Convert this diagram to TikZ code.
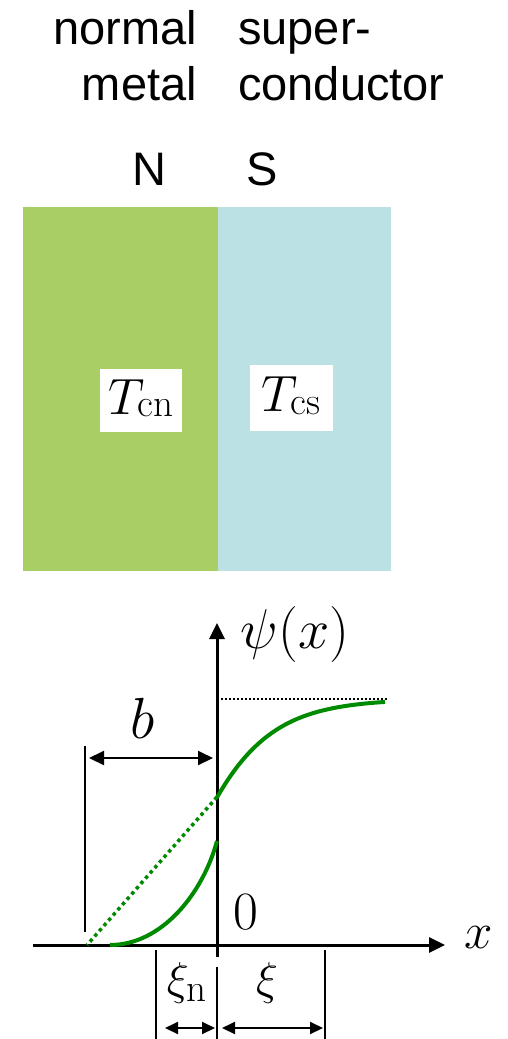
\RequirePackage{fix-cm}
\documentclass[tikz,border=0pt]{standalone}
\usepackage[no-math]{fontspec}
\newfontfamily\arialfont{Liberation Sans}
\usetikzlibrary{arrows.meta}
\definecolor{ngreen}{HTML}{A9CE66}
\definecolor{sblue}{HTML}{BBE1E4}
\definecolor{curvegreen}{HTML}{008A00}
\newcommand{\subtxt}[1]{\mbox{\fontsize{39}{40}\selectfont #1}}
\tikzset{
  toptext/.style={inner sep=0pt, font=\arialfont\fontsize{47}{56}\selectfont},
  region/.style={inner sep=0pt, anchor=north west, minimum height=364pt},
  tlabel/.style={fill=white, inner sep=0pt, font=\fontsize{51}{60}\selectfont},
  mathlab/.style={inner sep=0pt},
  axis/.style={line width=3pt, -{Triangle[width=15pt,length=16pt]}},
  dimline/.style={line width=2pt},
  dimarrow/.style={line width=2pt, {Triangle[width=14pt,length=15pt]}-{Triangle[width=14pt,length=15pt]}},
  smallarrow/.style={line width=2pt, {Triangle[width=12pt,length=13pt]}-{Triangle[width=12pt,length=13pt]}},
  psicurve/.style={curvegreen, line width=4pt},
  extrap/.style={curvegreen, line width=3.5pt, dash pattern=on 3.5pt off 3.5pt},
  limitline/.style={line width=1.5pt, dash pattern=on 2pt off 2pt}
}
\begin{document}
\begin{tikzpicture}[x=1pt,y=-1pt]
\useasboundingbox (0,0) rectangle (508,1039);
% top texts
\node[toptext, anchor=base east] (normal) at (197,44) {normal};
\node[toptext, anchor=base east] (metal) at (197,100) {metal};
\node[toptext, anchor=base west] (super) at (238,44) {super-};
\node[toptext, anchor=base west] (conductor) at (238,100) {conductor};
\node[toptext, anchor=base] (N) at (149,185) {N};
\node[toptext, anchor=base] (S) at (262.5,185) {S};
% regions
\node[region, fill=ngreen, minimum width=195pt] (nreg) at (23,207) {};
\node[region, fill=sblue, minimum width=173pt] (sreg) at (218,207) {};
\node[tlabel, minimum width=82pt, minimum height=63pt] (tcn) at (141,400.5) {$T_{\raisebox{5pt}{\subtxt{cn}}}$\hspace{6pt}};
\node[tlabel, minimum width=83pt, minimum height=66pt] (tcs) at (291.5,398) {$T_{\raisebox{5pt}{\subtxt{cs}}}$};
% axes
\coordinate (ybot) at (217,957);
\coordinate (ytop) at (217,623);
\coordinate (xleft) at (33,945);
\coordinate (xright) at (445,945);
\draw[axis] (ybot) -- (ytop);
\draw[axis] (xleft) -- (xright);
\node[mathlab, font=\fontsize{56}{60}\selectfont] (psi) at (295,634) {$\psi(x)$};
\node[mathlab, font=\fontsize{51}{60}\selectfont] (xlab) at (479,938) {$x$};
\node[mathlab, font=\fontsize{54}{60}\selectfont] (zero) at (246,912) {$0$};
% limit line
\coordinate (lim0) at (217,699);
\coordinate (lim1) at (388,699);
\draw[limitline] (lim0) -- (lim1);
% curves
\draw[psicurve] plot[domain=0:168, samples=80] ({217+\x},{945-246*tanh(0.693+\x/90)});
\coordinate (psi0) at (217,797);
\coordinate (bzero) at (87,945);
\draw[extrap] (psi0) -- (bzero);
\coordinate (nstart) at (110,945);
\coordinate (nend) at (217,841);
\draw[psicurve] (nstart) .. controls (162,945) and (203,893) .. (nend);
% b dimension
\coordinate (bl0) at (85,746);
\coordinate (bl1) at (85,932);
\draw[dimline] (bl0) -- (bl1);
\coordinate (ba) at (89,758);
\coordinate (bb) at (213,758);
\draw[dimarrow] (ba) -- (bb);
\node[mathlab, font=\fontsize{58}{60}\selectfont] (blab) at (143,718) {$b$};
% xi dimensions
\coordinate (x1a) at (156,950);
\coordinate (x1b) at (156,1039);
\coordinate (x2a) at (217,967);
\coordinate (x2b) at (217,1039);
\coordinate (x3a) at (325,950);
\coordinate (x3b) at (325,1039);
\draw[dimline] (x1a) -- (x1b);
\draw[dimline] (x2a) -- (x2b);
\draw[dimline] (x3a) -- (x3b);
\coordinate (xn0) at (165,1028);
\coordinate (xn1) at (215,1028);
\coordinate (xs0) at (222,1028);
\coordinate (xs1) at (323,1028);
\draw[smallarrow] (xn0) -- (xn1);
\draw[smallarrow] (xs0) -- (xs1);
\node[mathlab, font=\fontsize{46}{60}\selectfont] (xinlab) at (187,983) {$\xi_{\subtxt{n}}$};
\node[mathlab, font=\fontsize{46}{60}\selectfont] (xilab) at (267,983) {$\xi$};
\end{tikzpicture}
\end{document}
